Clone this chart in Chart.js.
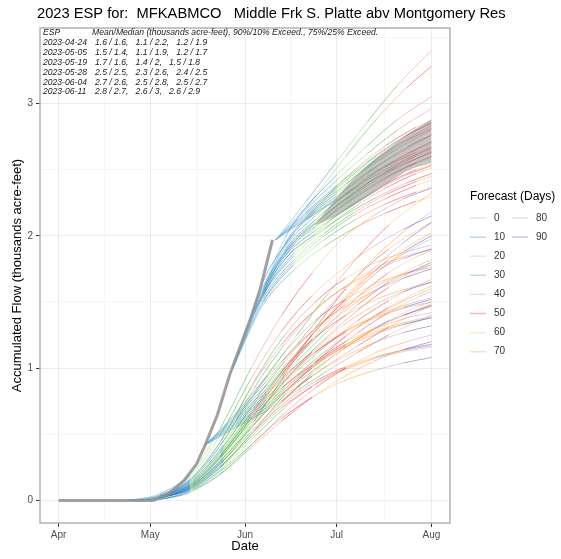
<!DOCTYPE html>
<html>
<head>
<meta charset="utf-8">
<script src="https://cdn.jsdelivr.net/npm/chart.js@4.4.1/dist/chart.umd.min.js"></script>
<style>
  html, body { margin: 0; padding: 0; background: #fff; }
  #wrap { width: 561px; height: 559px; position: relative; }
</style>
</head>
<body>
<div id="wrap"><canvas id="espChart"></canvas></div>
<script>
// Days counted from 2023-04-01
const monthDays = [0, 30, 61, 91, 122];
const monthLabels = ['Apr', 'May', 'Jun', 'Jul', 'Aug'];
const minorDays = [15, 45.5, 76, 106.5];
const yTicks = [0, 0.5, 1, 1.5, 2, 2.5, 3, 3.5];

// Forecast lead bins (days) and their colours
const leadBins = [0, 10, 20, 30, 40, 50, 60, 70, 80, 90];
const leadColors = ['#6baed6', '#1f78b4', '#8fd16a', '#33a02c', '#f4797a',
                    '#e31a1c', '#fdb462', '#ff8c1a', '#a996c8', '#6a3d9a'];

// Table in the top-left corner
const espHeader = ['ESP', 'Mean/Median (thousands acre-feet), 90%/10% Exceed., 75%/25% Exceed.'];
const espDates = ['2023-04-24', '2023-05-05', '2023-05-19', '2023-05-28', '2023-06-04', '2023-06-11'];
const espStats = ['1.6 / 1.6,   1.1 / 2.2,   1.2 / 1.9',
                  '1.5 / 1.4,   1.1 / 1.9,   1.2 / 1.7',
                  '1.7 / 1.6,   1.4 / 2,   1.5 / 1.8',
                  '2.5 / 2.5,   2.3 / 2.6,   2.4 / 2.5',
                  '2.7 / 2.6,   2.5 / 2.8,   2.5 / 2.7',
                  '2.8 / 2.7,   2.6 / 3,   2.6 / 2.9'];

// Observed accumulated flow
const obsDays = [0, 31, 36, 41, 45, 48, 52, 56, 60, 63, 66, 70];
const obsValues = [0, 0, 0.05, 0.15, 0.27, 0.42, 0.65, 0.95, 1.2, 1.38, 1.6, 1.97];

// Ensemble traces, one list per forecast issue date
const issueDays = [23, 34, 48, 57, 64, 71];

const days0424 = [23, 33, 43, 53, 63, 73, 83, 93, 103, 113, 122];
const traces0424 = [
  [0, 0.02, 0.12, 0.35, 0.62, 0.85, 1.02, 1.15, 1.25, 1.33, 1.38],
  [0, 0.03, 0.15, 0.42, 0.78, 1.05, 1.28, 1.45, 1.58, 1.68, 1.75],
  [0, 0.01, 0.08, 0.25, 0.48, 0.70, 0.86, 0.98, 1.07, 1.14, 1.18],
  [0, 0.04, 0.18, 0.50, 0.92, 1.28, 1.55, 1.75, 1.92, 2.05, 2.15],
  [0, 0.02, 0.10, 0.30, 0.55, 0.80, 1.00, 1.16, 1.30, 1.40, 1.47],
  [0, 0.03, 0.14, 0.38, 0.70, 0.98, 1.22, 1.42, 1.58, 1.70, 1.80],
  [0, 0.01, 0.07, 0.22, 0.42, 0.62, 0.78, 0.90, 0.98, 1.04, 1.08],
  [0, 0.05, 0.20, 0.55, 1.00, 1.40, 1.72, 1.98, 2.15, 2.28, 2.36],
  [0, 0.02, 0.11, 0.33, 0.60, 0.88, 1.12, 1.32, 1.47, 1.58, 1.65],
  [0, 0.03, 0.13, 0.36, 0.66, 0.92, 1.12, 1.27, 1.38, 1.46, 1.52],
  [0, 0.02, 0.09, 0.28, 0.52, 0.75, 0.94, 1.08, 1.19, 1.27, 1.32],
  [0, 0.04, 0.16, 0.45, 0.85, 1.18, 1.42, 1.60, 1.73, 1.83, 1.90],
  [0, 0.02, 0.10, 0.32, 0.62, 0.95, 1.25, 1.52, 1.75, 1.95, 2.10],
  [0, 0.01, 0.06, 0.20, 0.40, 0.60, 0.78, 0.93, 1.05, 1.14, 1.20],
  [0, 0.03, 0.12, 0.34, 0.64, 0.94, 1.22, 1.48, 1.70, 1.88, 2.00],
  [0, 0.02, 0.09, 0.26, 0.50, 0.74, 0.96, 1.14, 1.29, 1.40, 1.48]
];

const days0505 = [34, 44, 54, 64, 74, 84, 94, 104, 114, 122];
const traces0505 = [
  [0.03, 0.12, 0.32, 0.60, 0.86, 1.05, 1.20, 1.30, 1.38, 1.42],
  [0.03, 0.15, 0.40, 0.75, 1.05, 1.30, 1.48, 1.62, 1.72, 1.78],
  [0.03, 0.10, 0.28, 0.52, 0.74, 0.90, 1.01, 1.09, 1.14, 1.17],
  [0.03, 0.18, 0.48, 0.90, 1.25, 1.50, 1.68, 1.80, 1.88, 1.93],
  [0.03, 0.13, 0.35, 0.65, 0.92, 1.12, 1.27, 1.38, 1.46, 1.50],
  [0.03, 0.11, 0.30, 0.58, 0.84, 1.04, 1.18, 1.28, 1.35, 1.39],
  [0.03, 0.16, 0.42, 0.80, 1.12, 1.36, 1.52, 1.64, 1.72, 1.76],
  [0.03, 0.12, 0.33, 0.62, 0.90, 1.12, 1.28, 1.40, 1.48, 1.53],
  [0.03, 0.09, 0.25, 0.48, 0.70, 0.88, 1.00, 1.08, 1.13, 1.16],
  [0.03, 0.14, 0.37, 0.70, 1.00, 1.23, 1.40, 1.52, 1.60, 1.65],
  [0.03, 0.12, 0.31, 0.57, 0.82, 1.02, 1.17, 1.27, 1.34, 1.38],
  [0.03, 0.17, 0.45, 0.85, 1.18, 1.44, 1.62, 1.76, 1.85, 1.90],
  [0.03, 0.11, 0.30, 0.60, 0.95, 1.30, 1.60, 1.85, 2.05, 2.18],
  [0.03, 0.08, 0.22, 0.44, 0.66, 0.85, 1.00, 1.12, 1.20, 1.25],
  [0.03, 0.13, 0.36, 0.68, 1.00, 1.28, 1.52, 1.72, 1.88, 1.98],
  [0.03, 0.10, 0.27, 0.53, 0.80, 1.04, 1.24, 1.40, 1.52, 1.60]
];

const days0519 = [48, 58, 68, 78, 88, 98, 108, 118, 122];
const traces0519 = [
  [0.42, 0.58, 0.74, 0.92, 1.10, 1.27, 1.42, 1.54, 1.58],
  [0.42, 0.62, 0.82, 1.05, 1.28, 1.48, 1.65, 1.78, 1.82],
  [0.42, 0.55, 0.68, 0.83, 0.98, 1.12, 1.25, 1.36, 1.40],
  [0.42, 0.65, 0.90, 1.18, 1.45, 1.70, 1.90, 2.05, 2.10],
  [0.42, 0.60, 0.78, 0.98, 1.18, 1.36, 1.51, 1.63, 1.67],
  [0.42, 0.61, 0.80, 1.02, 1.24, 1.44, 1.61, 1.74, 1.78],
  [0.42, 0.57, 0.72, 0.89, 1.06, 1.22, 1.36, 1.47, 1.50],
  [0.42, 0.64, 0.87, 1.12, 1.38, 1.62, 1.82, 1.97, 2.02],
  [0.42, 0.59, 0.76, 0.95, 1.14, 1.31, 1.46, 1.58, 1.62],
  [0.42, 0.63, 0.84, 1.08, 1.32, 1.54, 1.72, 1.85, 1.89],
  [0.42, 0.66, 0.94, 1.25, 1.56, 1.84, 2.08, 2.26, 2.32],
  [0.42, 0.56, 0.70, 0.86, 1.02, 1.17, 1.31, 1.43, 1.47]
];

const days0528 = [57, 67, 77, 87, 97, 107, 117, 122];
const traces0528 = [
  [1.0, 1.55, 1.85, 2.05, 2.22, 2.36, 2.47, 2.51],
  [1.0, 1.50, 1.78, 1.97, 2.12, 2.24, 2.33, 2.37],
  [1.0, 1.62, 1.95, 2.18, 2.37, 2.52, 2.63, 2.67],
  [1.0, 1.48, 1.74, 1.92, 2.06, 2.17, 2.26, 2.29],
  [1.0, 1.58, 1.90, 2.12, 2.30, 2.44, 2.55, 2.59],
  [1.0, 1.53, 1.82, 2.02, 2.18, 2.31, 2.41, 2.45],
  [1.0, 1.66, 2.02, 2.28, 2.50, 2.68, 2.82, 2.87],
  [1.0, 1.56, 1.87, 2.08, 2.25, 2.39, 2.50, 2.54],
  [1.0, 1.51, 1.80, 2.00, 2.16, 2.28, 2.38, 2.42],
  [1.0, 1.60, 1.93, 2.15, 2.33, 2.48, 2.60, 2.64]
];

const days0604 = [64, 74, 84, 94, 104, 114, 122];
const traces0604 = [
  [1.42, 1.88, 2.10, 2.28, 2.44, 2.58, 2.66],
  [1.42, 1.84, 2.04, 2.20, 2.34, 2.46, 2.53],
  [1.42, 1.94, 2.20, 2.42, 2.60, 2.76, 2.85],
  [1.42, 1.86, 2.07, 2.24, 2.39, 2.52, 2.60],
  [1.42, 1.91, 2.15, 2.35, 2.52, 2.67, 2.76],
  [1.42, 1.82, 2.01, 2.16, 2.29, 2.40, 2.47],
  [1.42, 1.98, 2.30, 2.60, 2.88, 3.12, 3.28],
  [1.42, 1.89, 2.12, 2.31, 2.48, 2.62, 2.71],
  [1.42, 1.87, 2.09, 2.27, 2.42, 2.55, 2.63],
  [1.42, 1.93, 2.18, 2.39, 2.57, 2.72, 2.81]
];

const days0611 = [71, 81, 91, 101, 111, 122];
const traces0611 = [
  [1.97, 2.15, 2.32, 2.48, 2.62, 2.76],
  [1.97, 2.12, 2.27, 2.40, 2.52, 2.63],
  [1.97, 2.20, 2.42, 2.62, 2.80, 2.96],
  [1.97, 2.14, 2.30, 2.45, 2.58, 2.70],
  [1.97, 2.18, 2.38, 2.56, 2.72, 2.86],
  [1.97, 2.26, 2.56, 2.86, 3.14, 3.40],
  [1.97, 2.16, 2.34, 2.51, 2.66, 2.80],
  [1.97, 2.13, 2.28, 2.42, 2.55, 2.67],
  [1.97, 2.17, 2.36, 2.53, 2.69, 2.83],
  [1.97, 2.22, 2.46, 2.68, 2.88, 3.05]
];

// Dense overlap region of the latest forecasts (gray band)
const bandDays = [84, 90, 96, 102, 108, 115, 122];
const bandLow = [2.08, 2.14, 2.22, 2.31, 2.40, 2.50, 2.55];
const bandHigh = [2.09, 2.26, 2.42, 2.55, 2.66, 2.78, 2.88];

const ensembleGroups = [
  [days0424, traces0424],
  [days0505, traces0505],
  [days0519, traces0519],
  [days0528, traces0528],
  [days0604, traces0604],
  [days0611, traces0611]
];

function hexToRgba(hex, a) {
  const n = parseInt(hex.slice(1), 16);
  return `rgba(${(n >> 16) & 255}, ${(n >> 8) & 255}, ${n & 255}, ${a})`;
}

// lead 0-9 -> bin 0, 10-19 -> bin 10, and so on
function leadColor(lead, a) {
  const i = Math.min(leadBins.length - 1, Math.max(0, Math.floor(lead / 10)));
  return hexToRgba(leadColors[i], a);
}

const toPoints = (xs, ys) => xs.map((x, i) => ({ x: x, y: ys[i] }));

// Build datasets
const datasets = [];

datasets.push({
  label: 'observed',
  data: toPoints(obsDays, obsValues),
  borderColor: 'rgba(145, 145, 145, 0.85)',
  borderWidth: 3,
  pointRadius: 0,
  tension: 0,
  fill: false,
  order: 0
});

datasets.push({
  label: 'bandLow',
  data: toPoints(bandDays, bandLow),
  borderWidth: 0,
  borderColor: 'rgba(0,0,0,0)',
  pointRadius: 0,
  cubicInterpolationMode: 'monotone',
  fill: false,
  order: 1
});
datasets.push({
  label: 'bandHigh',
  data: toPoints(bandDays, bandHigh),
  borderWidth: 0,
  borderColor: 'rgba(0,0,0,0)',
  backgroundColor: 'rgba(125, 125, 125, 0.45)',
  pointRadius: 0,
  cubicInterpolationMode: 'monotone',
  fill: { target: 1 },
  order: 1
});

ensembleGroups.forEach((group, g) => {
  const xs = group[0];
  const issue = issueDays[g];
  group[1].forEach(ys => {
    datasets.push({
      label: 'esp',
      data: toPoints(xs, ys),
      borderWidth: 0.9,
      borderColor: leadColor(0, 0.5),
      segment: {
        borderColor: ctx => leadColor((ctx.p0.parsed.x + ctx.p1.parsed.x) / 2 - issue, 0.5)
      },
      pointRadius: 0,
      cubicInterpolationMode: 'monotone',
      fill: false,
      order: 2
    });
  });
});

const FONT = "'Liberation Sans', Arial, sans-serif";

// Title, table, panel border and legend
const decorPlugin = {
  id: 'decor',
  afterDatasetsDraw(chart) {
    const { ctx, chartArea: a } = chart;
    ctx.save();
    ctx.strokeStyle = '#b3b3b3';
    ctx.lineWidth = 1.5;
    ctx.strokeRect(a.left, a.top, a.right - a.left, a.bottom - a.top);
    ctx.restore();
  },
  afterDraw(chart) {
    const { ctx, chartArea: a } = chart;
    ctx.save();
    ctx.fillStyle = '#000';
    ctx.textBaseline = 'middle';
    ctx.font = `14.7px ${FONT}`;
    ctx.fillText('2023 ESP for:  MFKABMCO   Middle Frk S. Platte abv Montgomery Res', 37, 14);

    // ESP table
    ctx.font = `italic 8.6px ${FONT}`;
    ctx.fillStyle = '#1a1a1a';
    ctx.fillText(espHeader[0], a.left + 3, 33);
    ctx.fillText(espHeader[1], a.left + 52, 33);
    espDates.forEach((d, i) => {
      const y = 43 + i * 9.8;
      ctx.fillText(d, a.left + 3, y);
      ctx.fillText(espStats[i], a.left + 55, y);
    });

    // Legend
    ctx.fillStyle = '#000';
    ctx.font = `12px ${FONT}`;
    ctx.fillText('Forecast (Days)', 470, 197);
    ctx.font = `10px ${FONT}`;
    leadBins.forEach((b, i) => {
      const col = i < 8 ? 0 : 1;
      const row = i < 8 ? i : i - 8;
      const x = 470 + col * 42;
      const y = 218 + row * 19.1;
      ctx.strokeStyle = hexToRgba(leadColors[i], 0.3);
      ctx.lineWidth = 1.5;
      ctx.beginPath();
      ctx.moveTo(x, y);
      ctx.lineTo(x + 16, y);
      ctx.stroke();
      ctx.fillStyle = '#333';
      ctx.fillText(String(b), x + 24, y);
    });
    ctx.restore();
  }
};

new Chart(document.getElementById('espChart'), {
  type: 'line',
  data: { datasets: datasets },
  plugins: [decorPlugin],
  options: {
    responsive: true,
    maintainAspectRatio: false,
    animation: false,
    layout: { padding: { top: 28, right: 111, left: 0, bottom: 0 } },
    plugins: {
      legend: { display: false },
      title: { display: false },
      tooltip: { enabled: false }
    },
    scales: {
      x: {
        type: 'linear',
        min: -6.1,
        max: 128.1,
        afterFit: s => { s.height = 36; },
        afterBuildTicks: s => {
          s.ticks = monthDays.concat(minorDays).map(v => ({ value: v }));
        },
        ticks: {
          autoSkip: false,
          maxRotation: 0,
          padding: 2,
          color: '#4d4d4d',
          font: { family: FONT, size: 10 },
          callback: v => {
            const i = monthDays.indexOf(v);
            return i >= 0 ? monthLabels[i] : '';
          }
        },
        grid: {
          color: c => monthDays.includes(c.tick.value) ? '#ebebeb' : '#f6f6f6',
          tickColor: c => monthDays.includes(c.tick.value) ? '#333' : 'rgba(0,0,0,0)',
          tickLength: 4,
          lineWidth: 1
        },
        border: { display: false },
        title: {
          display: true,
          text: 'Date',
          color: '#000',
          font: { family: FONT, size: 13 },
          padding: { top: 0, bottom: 5 }
        }
      },
      y: {
        type: 'linear',
        min: -0.17,
        max: 3.57,
        afterFit: s => { s.width = 40; },
        afterBuildTicks: s => {
          s.ticks = yTicks.map(v => ({ value: v }));
        },
        ticks: {
          padding: 3,
          color: '#4d4d4d',
          font: { family: FONT, size: 10 },
          callback: v => Number.isInteger(v) ? String(v) : ''
        },
        grid: {
          color: c => Number.isInteger(c.tick.value) ? '#ebebeb' : '#f6f6f6',
          tickColor: c => Number.isInteger(c.tick.value) ? '#333' : 'rgba(0,0,0,0)',
          tickLength: 4,
          lineWidth: 1
        },
        border: { display: false },
        title: {
          display: true,
          text: 'Accumulated Flow (thousands acre-feet)',
          color: '#000',
          font: { family: FONT, size: 13 },
          padding: { top: 10, bottom: 0 }
        }
      }
    }
  }
});
</script>
</body>
</html>
